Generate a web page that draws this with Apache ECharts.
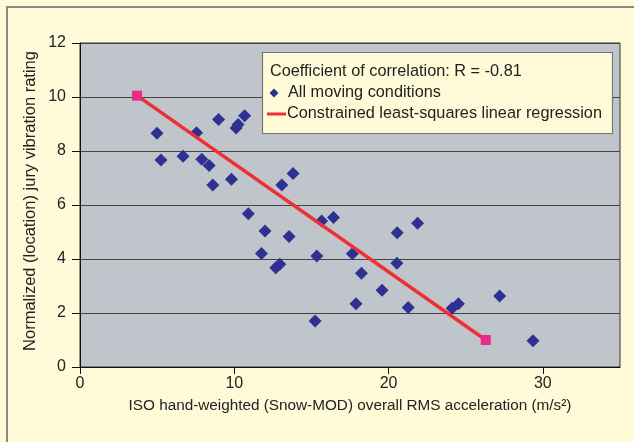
<!DOCTYPE html>
<html><head><meta charset="utf-8">
<script src="https://cdn.jsdelivr.net/npm/echarts@6/dist/echarts.min.js"></script>
<style>html,body{margin:0;padding:0;background:#FFFAD8;}#c{width:634px;height:442px;}</style>
</head><body><div id="c"></div>
<script>
const xValues = [4.99,5.25,6.68,7.55,7.89,8.37,8.61,8.98,9.82,10.12,10.25,10.67,10.91,11.76,11.99,12.69,12.95,13.08,13.55,13.81,15.24,15.35,15.66,16.43,17.65,17.89,18.24,19.58,20.54,20.56,21.27,21.88,24.12,24.53,27.2,29.36];
const yValues = [8.66,7.67,7.81,8.68,7.69,7.46,6.74,9.17,6.95,8.85,8.98,9.31,5.68,4.20,5.04,3.68,3.81,6.74,4.83,7.17,1.70,4.11,5.41,5.54,4.19,2.34,3.47,2.84,3.84,4.97,2.20,5.32,2.18,2.34,2.63,0.97];
const regX = [3.7, 26.3];
const regY = [10.05, 1.0];
const xTicks = [0,10,20,30];
const yTicks = [0,2,4,6,8,10,12];
const legendTitle = 'Coefficient of correlation: R = -0.81';
const seriesNames = ['All moving conditions','Constrained least-squares linear regression'];
const xName = 'ISO hand-weighted (Snow-MOD) overall RMS acceleration (m/s²)';
const yName = 'Normalized (location) jury vibration rating';

const FONT = 'Liberation Sans, Arial, sans-serif';
const chart = echarts.init(document.getElementById('c'), null, {renderer:'canvas'});
chart.setOption({
  backgroundColor: '#FFFAD8',
  animation: false,
  grid: {left: 80, right: 14, top: 43, bottom: 75, show: true, backgroundColor: '#C0C4CB', borderColor: '#333', borderWidth: 1},
  xAxis: {
    type: 'value', min: 0, max: 35, interval: 10,
    name: xName, nameLocation: 'middle', nameGap: 31,
    nameTextStyle: {fontFamily: FONT, fontSize: 15.3, color: '#222'},
    axisLine: {show: true, onZero: false, lineStyle: {color: '#111', width: 1}},
    axisTick: {show: true, length: 7, lineStyle: {color: '#111'}, customValues: xTicks},
    axisLabel: {fontFamily: FONT, fontSize: 16, color: '#222', margin: 9, customValues: xTicks},
    splitLine: {show: false}
  },
  yAxis: {
    type: 'value', min: 0, max: 12, interval: 2,
    axisLine: {show: true, lineStyle: {color: '#111', width: 1}},
    axisTick: {show: true, length: 8, lineStyle: {color: '#111'}},
    axisLabel: {fontFamily: FONT, fontSize: 16, color: '#222', margin: 14},
    splitLine: {show: true, lineStyle: {color: '#444', width: 1}}
  },
  graphic: [
    {type: 'rect', shape: {x: 7, y: 7, width: 660, height: 470}, style: {fill: 'none', stroke: '#8a8a8a', lineWidth: 2}, z: 0},
    {type: 'text', x: 30, y: 201, rotation: Math.PI/2, style: {text: yName, fontFamily: FONT, fontSize: 16.5, fill: '#222', textAlign: 'center', textVerticalAlign: 'middle'}},
    {type: 'rect', shape: {x: 262.5, y: 52.5, width: 350, height: 81}, style: {fill: '#FFFBD8', stroke: '#777', lineWidth: 1.2}, z: 50},
    {type: 'text', x: 270, y: 72, style: {text: legendTitle, fontFamily: FONT, fontSize: 16.3, fill: '#222', textVerticalAlign: 'middle'}, z: 51},
    {type: 'polygon', shape: {points: [[274,88.5],[278.5,93],[274,97.5],[269.5,93]]}, style: {fill: '#2E3192'}, z: 51},
    {type: 'text', x: 288, y: 93, style: {text: seriesNames[0], fontFamily: FONT, fontSize: 16.3, fill: '#222', textVerticalAlign: 'middle'}, z: 51},
    {type: 'line', shape: {x1: 267, y1: 114, x2: 286, y2: 114}, style: {stroke: '#EE3035', lineWidth: 3}, z: 51},
    {type: 'text', x: 287, y: 114, style: {text: seriesNames[1], fontFamily: FONT, fontSize: 16.3, fill: '#222', textVerticalAlign: 'middle'}, z: 51}
  ],
  series: [
    {type: 'scatter', name: seriesNames[0], symbol: 'diamond', symbolSize: 13,
     itemStyle: {color: '#2E3192', opacity: 1}, data: xValues.map((x,i)=>[x, yValues[i]]), z: 2},
    {type: 'line', name: seriesNames[1], symbol: 'rect', symbolSize: 10, showSymbol: true,
     itemStyle: {color: '#EC2A8C'}, lineStyle: {color: '#EE3035', width: 3.5},
     data: regX.map((x,i)=>[x, regY[i]]), z: 3}
  ]
});
</script></body></html>
